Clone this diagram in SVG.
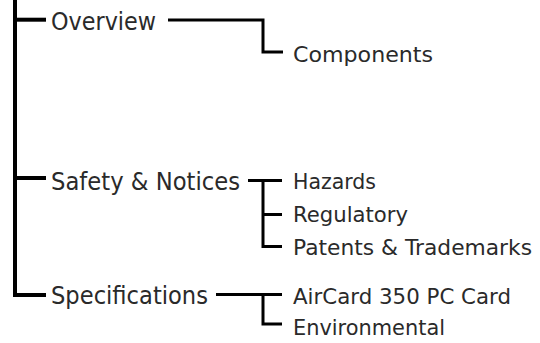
<svg xmlns="http://www.w3.org/2000/svg" width="540" height="343" viewBox="0 0 540 343">
<style>
  .l1 { font-family: "DejaVu Sans", Verdana, sans-serif; font-size: 25px; fill: #2a2a2a; }
  .l2 { font-family: "DejaVu Sans", Verdana, sans-serif; font-size: 21.5px; fill: #2a2a2a; }
  .main { fill: none; stroke: #000; stroke-width: 4; stroke-linejoin: miter; stroke-linecap: butt; }
  .sub { fill: none; stroke: #000; stroke-width: 3; stroke-linejoin: miter; stroke-linecap: butt; }
</style>
<rect width="540" height="343" fill="#fff"/>
<g id="connectors">
  <path class="main" d="M15,0 V295 H46"/>
  <path class="main" d="M15,19.7 H46"/>
  <path class="main" d="M15,178 H46"/>
  <path class="sub" d="M168,20 H263 V52 H283"/>
  <path class="sub" d="M248,180.5 H282"/>
  <path class="sub" d="M263,180.5 V246.5 H282"/>
  <path class="sub" d="M263,214.5 H282"/>
  <path class="sub" d="M216,294.5 H282"/>
  <path class="sub" d="M263,294.5 V324 H282"/>
</g>
<g id="overview"><text class="l1" x="51" y="30" textLength="105" lengthAdjust="spacingAndGlyphs">Overview</text></g>
<g id="safety"><text class="l1" x="51" y="189.5" textLength="189" lengthAdjust="spacingAndGlyphs">Safety &amp; Notices</text></g>
<g id="specifications"><text class="l1" x="51" y="303.5" textLength="157" lengthAdjust="spacingAndGlyphs">Specifications</text></g>
<g id="components"><text class="l2" x="293" y="62" textLength="140" lengthAdjust="spacingAndGlyphs">Components</text></g>
<g id="hazards"><text class="l2" x="293" y="188.5" textLength="83" lengthAdjust="spacingAndGlyphs">Hazards</text></g>
<g id="regulatory"><text class="l2" x="293" y="221.5" textLength="115" lengthAdjust="spacingAndGlyphs">Regulatory</text></g>
<g id="patents"><text class="l2" x="293" y="254.5" textLength="239" lengthAdjust="spacingAndGlyphs">Patents &amp; Trademarks</text></g>
<g id="aircard"><text class="l2" x="293" y="303.5" textLength="218" lengthAdjust="spacingAndGlyphs">AirCard 350 PC Card</text></g>
<g id="environmental"><text class="l2" x="293" y="335" textLength="152" lengthAdjust="spacingAndGlyphs">Environmental</text></g>
</svg>
